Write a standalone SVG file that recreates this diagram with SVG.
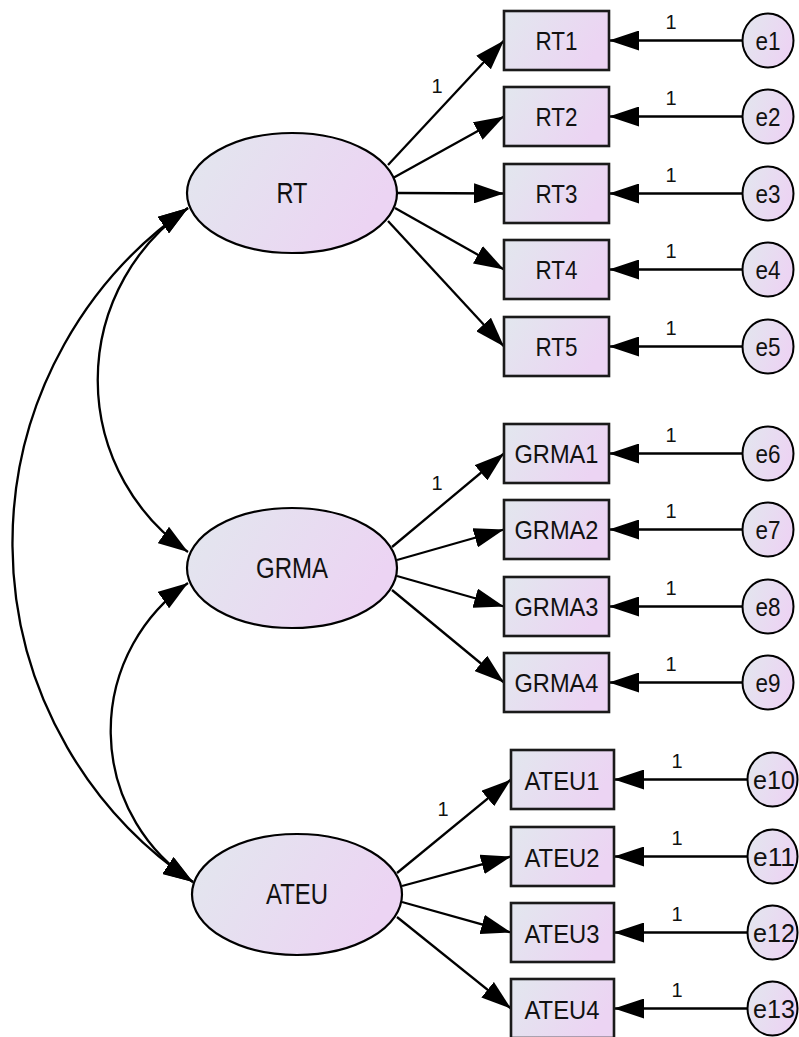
<svg xmlns="http://www.w3.org/2000/svg" width="799" height="1037" viewBox="0 0 799 1037">
<style>
.bg{fill:#ffffff}
.lat{fill:url(#g);stroke:#000;stroke-width:2.2}
.box{fill:url(#g);stroke:#1a1a1a;stroke-width:2.6}
.err{fill:url(#g);stroke:#000;stroke-width:2}
.ln{fill:none;stroke:#000;stroke-width:2.3}
.t{font-family:"Liberation Sans",Arial,sans-serif;fill:#111;text-anchor:middle}
.tl{font-size:29px}
.tb{font-size:26px}
.te{font-size:25px}
.tw{font-size:20px}
</style>
<defs>
<linearGradient id="g" x1="0" y1="0" x2="1" y2="0.35">
<stop offset="0" stop-color="#e2e7ee"/>
<stop offset="1" stop-color="#ecd4f3"/>
</linearGradient>
<marker id="ah" markerUnits="userSpaceOnUse" markerWidth="30" markerHeight="20" viewBox="0 0 30 20" refX="30" refY="10" orient="auto-start-reverse">
<path d="M0,0 L30,10 L0,20 z" fill="#000"/>
</marker>
</defs>
<rect class="bg" x="0" y="0" width="799" height="1037"/>

<g id="connectors">
<path class="ln" d="M188,208 A209,209 0 0,0 188,552" marker-start="url(#ah)" marker-end="url(#ah)"/>
<path class="ln" d="M188,208 A408,408 0 0,0 193,882" marker-start="url(#ah)" marker-end="url(#ah)"/>
<path class="ln" d="M188,583 A180,180 0 0,0 193,882" marker-start="url(#ah)" marker-end="url(#ah)"/>

<line class="ln" x1="388" y1="165" x2="504" y2="40.5" marker-end="url(#ah)"/>
<line class="ln" x1="393" y1="178" x2="504" y2="116.5" marker-end="url(#ah)"/>
<line class="ln" x1="397" y1="193" x2="504" y2="193.5" marker-end="url(#ah)"/>
<line class="ln" x1="395" y1="208" x2="504" y2="269.5" marker-end="url(#ah)"/>
<line class="ln" x1="388" y1="221" x2="504" y2="346.5" marker-end="url(#ah)"/>

<line class="ln" x1="392" y1="547" x2="504" y2="453.5" marker-end="url(#ah)"/>
<line class="ln" x1="397" y1="560" x2="504" y2="529.5" marker-end="url(#ah)"/>
<line class="ln" x1="397" y1="576" x2="504" y2="606.5" marker-end="url(#ah)"/>
<line class="ln" x1="392" y1="590" x2="504" y2="682.5" marker-end="url(#ah)"/>

<line class="ln" x1="397" y1="873" x2="511" y2="779.5" marker-end="url(#ah)"/>
<line class="ln" x1="402" y1="886" x2="511" y2="856.5" marker-end="url(#ah)"/>
<line class="ln" x1="402" y1="902" x2="511" y2="932.5" marker-end="url(#ah)"/>
<line class="ln" x1="397" y1="917" x2="511" y2="1008.5" marker-end="url(#ah)"/>

<line class="ln" x1="743" y1="40.5" x2="609" y2="40.5" marker-end="url(#ah)"/>
<line class="ln" x1="743" y1="116.5" x2="609" y2="116.5" marker-end="url(#ah)"/>
<line class="ln" x1="743" y1="193.5" x2="609" y2="193.5" marker-end="url(#ah)"/>
<line class="ln" x1="743" y1="269.5" x2="609" y2="269.5" marker-end="url(#ah)"/>
<line class="ln" x1="743" y1="346.5" x2="609" y2="346.5" marker-end="url(#ah)"/>
<line class="ln" x1="743" y1="453.5" x2="609" y2="453.5" marker-end="url(#ah)"/>
<line class="ln" x1="743" y1="529.5" x2="609" y2="529.5" marker-end="url(#ah)"/>
<line class="ln" x1="743" y1="606.5" x2="609" y2="606.5" marker-end="url(#ah)"/>
<line class="ln" x1="743" y1="682.5" x2="609" y2="682.5" marker-end="url(#ah)"/>
<line class="ln" x1="748" y1="779.5" x2="614" y2="779.5" marker-end="url(#ah)"/>
<line class="ln" x1="748" y1="856.5" x2="614" y2="856.5" marker-end="url(#ah)"/>
<line class="ln" x1="748" y1="932.5" x2="614" y2="932.5" marker-end="url(#ah)"/>
<line class="ln" x1="748" y1="1008.5" x2="614" y2="1008.5" marker-end="url(#ah)"/>

<text class="t tw" x="437" y="93">1</text>
<text class="t tw" x="437" y="490">1</text>
<text class="t tw" x="443" y="816">1</text>
<text class="t tw" x="671" y="29">1</text>
<text class="t tw" x="671" y="105">1</text>
<text class="t tw" x="671" y="182">1</text>
<text class="t tw" x="671" y="258">1</text>
<text class="t tw" x="671" y="335">1</text>
<text class="t tw" x="671" y="442">1</text>
<text class="t tw" x="671" y="518">1</text>
<text class="t tw" x="671" y="595">1</text>
<text class="t tw" x="671" y="671">1</text>
<text class="t tw" x="677" y="768">1</text>
<text class="t tw" x="677" y="845">1</text>
<text class="t tw" x="677" y="921">1</text>
<text class="t tw" x="677" y="997">1</text>
</g>

<g id="RT"><ellipse class="lat" cx="292" cy="193" rx="105" ry="60"/><text class="t tl" x="292" y="203" textLength="31" lengthAdjust="spacingAndGlyphs">RT</text></g>
<g id="GRMA"><ellipse class="lat" cx="292" cy="568" rx="105" ry="60"/><text class="t tl" x="292" y="578" textLength="72" lengthAdjust="spacingAndGlyphs">GRMA</text></g>
<g id="ATEU"><ellipse class="lat" cx="297" cy="894.5" rx="105" ry="60.5"/><text class="t tl" x="297" y="904" textLength="62" lengthAdjust="spacingAndGlyphs">ATEU</text></g>

<g id="RT1"><rect class="box" x="504" y="11" width="105" height="59"/><text class="t tb" x="556.5" y="50" textLength="42" lengthAdjust="spacingAndGlyphs">RT1</text></g>
<g id="RT2"><rect class="box" x="504" y="87" width="105" height="59"/><text class="t tb" x="556.5" y="126" textLength="42" lengthAdjust="spacingAndGlyphs">RT2</text></g>
<g id="RT3"><rect class="box" x="504" y="164" width="105" height="59"/><text class="t tb" x="556.5" y="203" textLength="42" lengthAdjust="spacingAndGlyphs">RT3</text></g>
<g id="RT4"><rect class="box" x="504" y="240" width="105" height="59"/><text class="t tb" x="556.5" y="279" textLength="42" lengthAdjust="spacingAndGlyphs">RT4</text></g>
<g id="RT5"><rect class="box" x="504" y="317" width="105" height="59"/><text class="t tb" x="556.5" y="356" textLength="42" lengthAdjust="spacingAndGlyphs">RT5</text></g>

<g id="GRMA1"><rect class="box" x="504" y="424" width="105" height="59"/><text class="t tb" x="556.5" y="463" textLength="84" lengthAdjust="spacingAndGlyphs">GRMA1</text></g>
<g id="GRMA2"><rect class="box" x="504" y="500" width="105" height="59"/><text class="t tb" x="556.5" y="539" textLength="84" lengthAdjust="spacingAndGlyphs">GRMA2</text></g>
<g id="GRMA3"><rect class="box" x="504" y="577" width="105" height="59"/><text class="t tb" x="556.5" y="616" textLength="84" lengthAdjust="spacingAndGlyphs">GRMA3</text></g>
<g id="GRMA4"><rect class="box" x="504" y="653" width="105" height="59"/><text class="t tb" x="556.5" y="692" textLength="84" lengthAdjust="spacingAndGlyphs">GRMA4</text></g>

<g id="ATEU1"><rect class="box" x="511" y="750" width="103" height="59"/><text class="t tb" x="562" y="790" textLength="75" lengthAdjust="spacingAndGlyphs">ATEU1</text></g>
<g id="ATEU2"><rect class="box" x="511" y="827" width="103" height="59"/><text class="t tb" x="562" y="867" textLength="75" lengthAdjust="spacingAndGlyphs">ATEU2</text></g>
<g id="ATEU3"><rect class="box" x="511" y="903" width="103" height="59"/><text class="t tb" x="562" y="943" textLength="75" lengthAdjust="spacingAndGlyphs">ATEU3</text></g>
<g id="ATEU4"><rect class="box" x="511" y="979" width="103" height="59"/><text class="t tb" x="562" y="1019" textLength="75" lengthAdjust="spacingAndGlyphs">ATEU4</text></g>

<g id="e1"><ellipse class="err" cx="768" cy="40.5" rx="25.5" ry="27"/><text class="t te" x="768" y="49.5" textLength="25" lengthAdjust="spacingAndGlyphs">e1</text></g>
<g id="e2"><ellipse class="err" cx="768" cy="116.5" rx="25.5" ry="27"/><text class="t te" x="768" y="125.5" textLength="25" lengthAdjust="spacingAndGlyphs">e2</text></g>
<g id="e3"><ellipse class="err" cx="768" cy="193.5" rx="25.5" ry="27"/><text class="t te" x="768" y="202.5" textLength="25" lengthAdjust="spacingAndGlyphs">e3</text></g>
<g id="e4"><ellipse class="err" cx="768" cy="269.5" rx="25.5" ry="27"/><text class="t te" x="768" y="278.5" textLength="25" lengthAdjust="spacingAndGlyphs">e4</text></g>
<g id="e5"><ellipse class="err" cx="768" cy="346.5" rx="25.5" ry="27"/><text class="t te" x="768" y="355.5" textLength="25" lengthAdjust="spacingAndGlyphs">e5</text></g>
<g id="e6"><ellipse class="err" cx="768" cy="453.5" rx="25.5" ry="27"/><text class="t te" x="768" y="462.5" textLength="25" lengthAdjust="spacingAndGlyphs">e6</text></g>
<g id="e7"><ellipse class="err" cx="768" cy="529.5" rx="25.5" ry="27"/><text class="t te" x="768" y="538.5" textLength="25" lengthAdjust="spacingAndGlyphs">e7</text></g>
<g id="e8"><ellipse class="err" cx="768" cy="606.5" rx="25.5" ry="27"/><text class="t te" x="768" y="615.5" textLength="25" lengthAdjust="spacingAndGlyphs">e8</text></g>
<g id="e9"><ellipse class="err" cx="768" cy="682.5" rx="25.5" ry="27"/><text class="t te" x="768" y="691.5" textLength="25" lengthAdjust="spacingAndGlyphs">e9</text></g>
<g id="e10"><ellipse class="err" cx="772.5" cy="779.5" rx="25" ry="27"/><text class="t te" x="774" y="788.5" textLength="42" lengthAdjust="spacingAndGlyphs">e10</text></g>
<g id="e11"><ellipse class="err" cx="772.5" cy="856.5" rx="25" ry="27"/><text class="t te" x="774" y="865.5" textLength="42" lengthAdjust="spacingAndGlyphs">e11</text></g>
<g id="e12"><ellipse class="err" cx="772.5" cy="932.5" rx="25" ry="27"/><text class="t te" x="774" y="941.5" textLength="42" lengthAdjust="spacingAndGlyphs">e12</text></g>
<g id="e13"><ellipse class="err" cx="772.5" cy="1008.5" rx="25" ry="27"/><text class="t te" x="774" y="1017.5" textLength="42" lengthAdjust="spacingAndGlyphs">e13</text></g>
</svg>
